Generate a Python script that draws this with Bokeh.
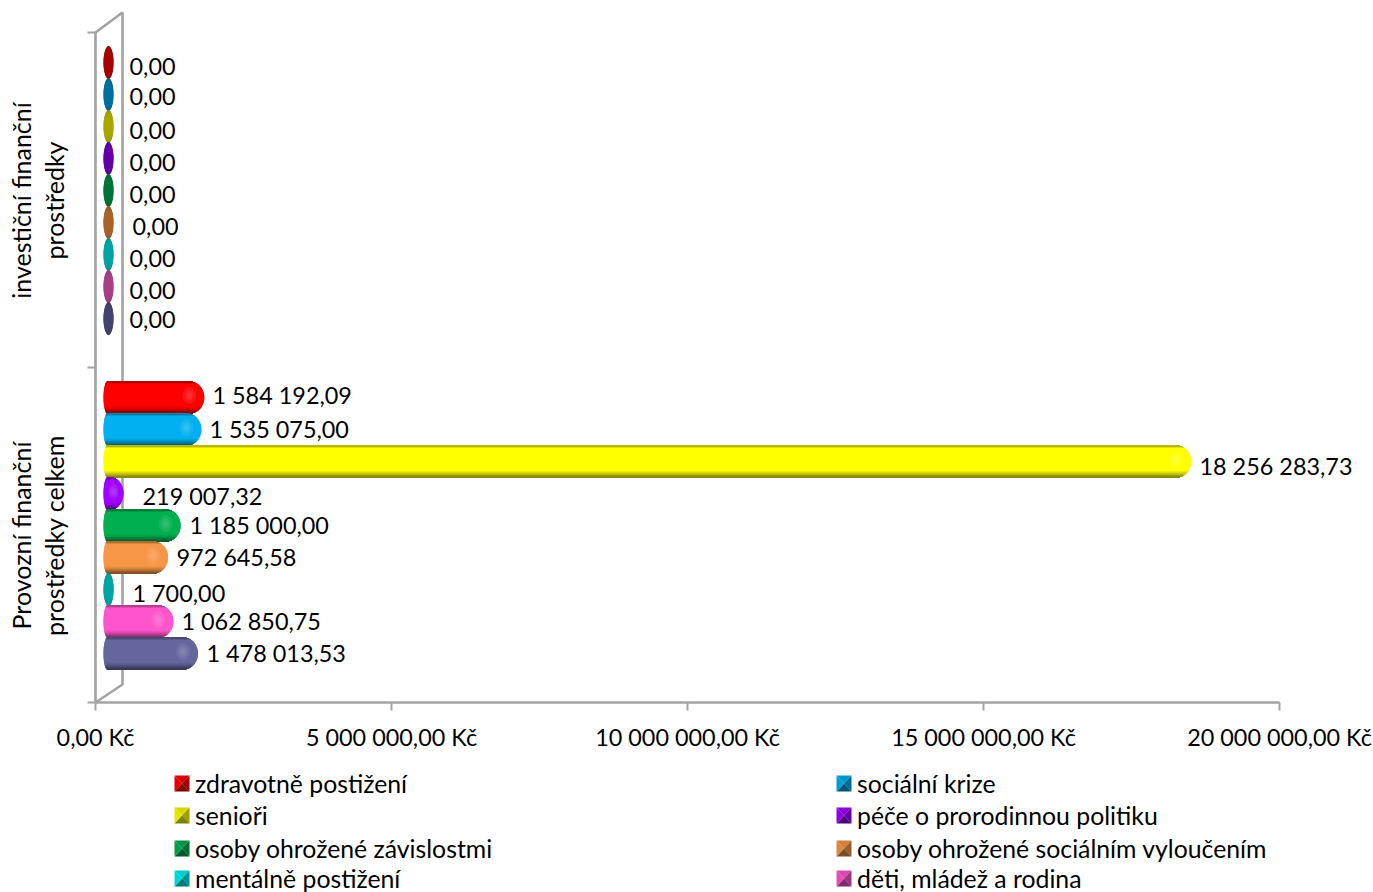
import math
from bokeh.plotting import figure, ColumnDataSource
from bokeh.models import Range1d, LinearAxis, FixedTicker
from bokeh.core.properties import value
from bokeh.embed import file_html
from bokeh.resources import INLINE

categories = ["Provozní finanční\nprostředky celkem", "investiční finanční\nprostředky"]
series_names = ["zdravotně postižení", "sociální krize", "senioři", "péče o prorodinnou politiku",
                "osoby ohrožené závislostmi", "osoby ohrožené sociálním vyloučením",
                "mentálně postižení", "děti, mládež a rodina"]
provozni = [1584192.09, 1535075.00, 18256283.73, 219007.32, 1185000.00, 972645.58, 1700.00, 1062850.75, 1478013.53]
provozni_labels = ["1 584 192,09", "1 535 075,00", "18 256 283,73", "219 007,32", "1 185 000,00",
                   "972 645,58", "1 700,00", "1 062 850,75", "1 478 013,53"]
investicni = [0, 0, 0, 0, 0, 0, 0, 0, 0]
investicni_labels = ["0,00"] * 9
x_ticks = [0, 5000000, 10000000, 15000000, 20000000]
x_tick_labels = ["0,00 Kč", "5 000 000,00 Kč", "10 000 000,00 Kč", "15 000 000,00 Kč", "20 000 000,00 Kč"]
bright = ["#FF0000", "#00B0F0", "#FFFF00", "#A000FF", "#00B050", "#F79646", "#00F0F0", "#FF55CC", "#66669E"]
dark = ["#A80000", "#00709E", "#A8A800", "#6400A8", "#007538", "#A8642C", "#00A5A5", "#A84088", "#44446E"]

FONT = "Lato"
W, H = 1373, 892
X0, X1, Y0, Y1 = 95, 1279, 702, 32
KX = (X1 - X0) / 20000000
KY = (Y0 - Y1) / 2


def dx(px):
    return px / KX


def dy(px):
    return px / KY


def X(px):
    return (px - X0) / KX


def Y(px):
    return (Y0 - px) / KY


def shade(c, f):
    r, g, b = int(c[1:3], 16), int(c[3:5], 16), int(c[5:7], 16)
    return "#%02x%02x%02x" % (int(r * f), int(g * f), int(b * f))


p = figure(width=W, height=H, output_backend="svg", toolbar_location=None,
           x_range=Range1d(X(0), X(W)), y_range=Range1d(Y(H), Y(0)),
           min_border=0, outline_line_color=None)
p.xgrid.visible = False
p.ygrid.visible = False
p.xaxis.visible = False
p.yaxis.visible = False

GRAY = "#A3A3A3"
LW = 2.6
# back wall
p.line([X(95), X(122), X(122), X(95)], [Y(32), Y(12), Y(684), Y(702)], line_color=GRAY, line_width=LW)

xa = LinearAxis(ticker=FixedTicker(ticks=x_ticks), fixed_location=0, bounds=(0, 20000000))
xa.major_label_overrides = {t: l for t, l in zip(x_ticks, x_tick_labels)}
xa.axis_line_color = GRAY
xa.axis_line_width = LW
xa.major_tick_line_color = GRAY
xa.major_tick_line_width = 2
xa.major_tick_in = 0
xa.major_tick_out = 8
xa.minor_tick_line_color = None
xa.major_label_text_font = FONT
xa.major_label_text_font_size = "23.4px"
xa.major_label_text_color = "#000000"
xa.major_label_standoff = 12
p.add_layout(xa, "below")

ya = LinearAxis(ticker=FixedTicker(ticks=[0, 1, 2]), fixed_location=0, bounds=(0, 2))
ya.major_label_overrides = {0: "", 1: "", 2: ""}
ya.axis_line_color = GRAY
ya.axis_line_width = LW
ya.major_tick_line_color = GRAY
ya.major_tick_line_width = 2
ya.major_tick_in = 0
ya.major_tick_out = 8
ya.minor_tick_line_color = None
p.add_layout(ya, "left")

# category labels: two lines, rotated
for cat, cy in zip(categories, [535, 200]):
    for line, lx in zip(cat.split("\n"), [20, 53]):
        p.text([X(lx)], [Y(cy)], text=[line], angle=math.pi / 2, text_align="center", text_baseline="middle",
               text_font=value(FONT), text_font_size="25px", text_color="#000000")

HALF = 16            # half bar height in px


def add_bar(val, cy_px, i):
    end_px = 103 + val * KX + (10 if val < 10000 else 7)
    width = end_px - 103
    rx_left = 4
    rx_right = min(15, max(5, width - 5 - 2) if width > 10 else 5)
    small = val < 10000
    main = dark[i] if small else bright[i]
    body = []
    for k in range(2 * HALF):
        mid = cy_px - HALF + k + 0.5
        t = (mid - cy_px) / HALF
        e = math.sqrt(max(0, 1 - t * t))
        lft = 103 + (5 if small else rx_left) * (1 - e)
        rgt = end_px - rx_right * (1 - e)
        frac = (k + 0.5) / (2 * HALF)
        if small:
            f = 1 - 0.12 * abs(t) ** 4
        elif frac < 0.05:
            f = 0.72
        elif frac < 0.1:
            f = 0.88
        elif frac < 0.78:
            f = 1.0
        else:
            f = 1.0 - 0.5 * ((frac - 0.78) / 0.22) ** 1.3
        body.append((lft, rgt, mid, shade(main, f)))
    return body


strips = {"l": [], "r": [], "y": [], "c": []}
hl = {"x": [], "y": [], "w": [], "h": []}
rows = [(provozni, 397), (investicni, 62)]
for vals, first in rows:
    for i, v in enumerate(vals):
        cy = first + 32 * i
        for lft, rgt, mid, col in add_bar(v, cy, i):
            strips["l"].append(X(lft))
            strips["r"].append(X(rgt))
            strips["y"].append(Y(mid))
            strips["c"].append(col)
        if v > 10000:
            e = 103 + v * KX + 7
            cxp = max(e - 15, 103 + (e - 103) * 0.5)
            for s in (14, 9, 5):
                hl["x"].append(X(cxp))
                hl["y"].append(Y(cy - 2))
                hl["w"].append(dx(min(s, (e - 103) * 0.5)))
                hl["h"].append(dy(s * 1.2))

p.hbar(y="y", left="l", right="r", height=dy(1.8), fill_color="c", fill_alpha=1.0, line_color=None,
       source=ColumnDataSource(strips))
p.ellipse(x="x", y="y", width="w", height="h", fill_color="#FFFFFF", fill_alpha=0.07, line_color=None,
          source=ColumnDataSource(hl))

# value labels
lab_x = [129] * 5 + [132] + [129] * 3
lab_y = [66, 96, 130, 162, 194, 226, 258, 290, 319]
p.text([X(a) for a in lab_x], [Y(b) for b in lab_y], text=investicni_labels, text_baseline="middle",
       text_font=value(FONT), text_font_size="23.4px", text_color="#000000")
lab_x2 = [212, 209, 1199, 142, 189, 176, 132, 181, 206]
lab_y2 = [394, 428, 465, 495, 524, 556, 592, 620, 652]
p.text([X(a) for a in lab_x2], [Y(b) for b in lab_y2], text=provozni_labels, text_baseline="middle",
       text_font=value(FONT), text_font_size="23.4px", text_color="#000000")

# legend
key_xs, key_ys, key_cs = [], [], []
leg_x, leg_y = [], []
col_px = [174, 836]
row_px = [783, 815, 848, 878]
for n, name in enumerate(series_names):
    kx = col_px[n % 2]
    ky = row_px[n // 2]
    x0, x1, y0, y1 = kx, kx + 15, ky - 8, ky + 8
    xm, ym = (x0 + x1) / 2, (y0 + y1) / 2
    base = bright[n]
    tris = [([x0, x1, xm], [y0, y0, ym], 0.85), ([x1, x1, xm], [y0, y1, ym], 0.62),
            ([x0, x1, xm], [y1, y1, ym], 0.5), ([x0, x0, xm], [y0, y1, ym], 0.9)]
    for txs, tys, f in tris:
        key_xs.append([X(a) for a in txs])
        key_ys.append([Y(b) for b in tys])
        key_cs.append(shade(base, f))
    leg_x.append(X(kx + 20.5))
    leg_y.append(Y(ky))
p.patches(key_xs, key_ys, fill_color=key_cs, fill_alpha=1.0, line_color=None)
p.text(leg_x, leg_y, text=series_names, text_baseline="middle", text_font=value(FONT),
       text_font_size="24.8px", text_color="#000000")

open("out.html", "w").write(file_html(p, INLINE))
